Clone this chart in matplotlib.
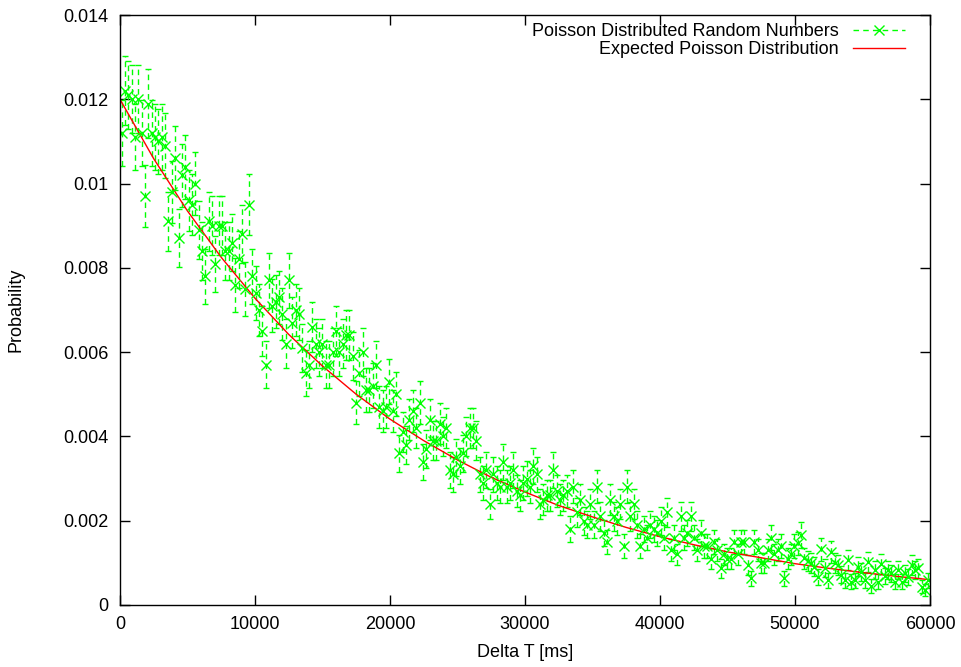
import numpy as np
import matplotlib
matplotlib.use("Agg")
import matplotlib.pyplot as plt
from matplotlib.lines import Line2D
from matplotlib.ticker import FuncFormatter, MultipleLocator

plt.rcParams['font.family'] = ['Liberation Sans', 'DejaVu Sans']

p_0_7k = [0.0112, 0.0122, 0.0121, 0.0120, 0.0111, 0.0120, 0.0112, 0.0097, 0.0119, 0.0112,
          0.0111, 0.0110, 0.0111, 0.0109, 0.0091, 0.0098, 0.0106, 0.0087, 0.0102, 0.0104,
          0.0096, 0.0095, 0.0100, 0.0089, 0.0084, 0.0078, 0.0091, 0.0090, 0.0081]
p_7k_10k = [0.0090, 0.0090, 0.0084, 0.0084, 0.0086, 0.0076, 0.0082, 0.0088, 0.0075, 0.0095]
p_10k_20k = [0.0078, 0.0074, 0.0070, 0.0065, 0.0057, 0.0077, 0.0071, 0.0072, 0.0073, 0.0069,
             0.0062, 0.0077, 0.0067, 0.0070, 0.0069, 0.0061, 0.0055, 0.0057, 0.0066, 0.0062,
             0.0060, 0.0062, 0.0057, 0.0057, 0.0060, 0.0065, 0.0060, 0.0062, 0.0064, 0.0064,
             0.0059, 0.0048, 0.0055, 0.0060, 0.0051, 0.0051, 0.0052, 0.0057, 0.0047, 0.0046,
             0.0047, 0.0053, 0.0046]
p_20k_30k = [0.0050, 0.0036, 0.0041, 0.0038, 0.0044, 0.0046, 0.0042, 0.0048, 0.0034, 0.0037,
             0.0044, 0.0039, 0.0039, 0.0043, 0.0040, 0.0042, 0.0032, 0.0031, 0.0035, 0.0033,
             0.0036, 0.0040, 0.0042, 0.0042, 0.0039, 0.0031, 0.0029, 0.0032, 0.0024, 0.0031,
             0.0029, 0.0028, 0.0034, 0.0028, 0.0029, 0.0032, 0.0027, 0.0026, 0.0029, 0.0030,
             0.0028]
p_30k_40k = [0.0033, 0.0031, 0.0024, 0.0025, 0.0026, 0.0026, 0.0032, 0.0027, 0.0025, 0.0026,
             0.0027, 0.0018, 0.0028, 0.0022, 0.0025, 0.0020, 0.0019, 0.0024, 0.0019, 0.0028,
             0.0021, 0.0017, 0.0015, 0.0025, 0.0021, 0.0020, 0.0024, 0.0014, 0.0028, 0.0021,
             0.0024, 0.0019, 0.0014, 0.0018, 0.0016, 0.0019, 0.0018, 0.0017, 0.0020]
p_40k_50k = [0.0016, 0.0022, 0.0013, 0.0016, 0.0012, 0.0021, 0.0016, 0.0017, 0.0021, 0.0016,
             0.0013, 0.0017, 0.0014, 0.0014, 0.0011, 0.0015, 0.0013, 0.00087, 0.0012, 0.0011,
             0.0011, 0.0015, 0.0012, 0.0015, 0.0015, 0.00095, 0.00063, 0.0015, 0.0013, 0.0010,
             0.0010, 0.0013, 0.0016, 0.0012, 0.0013, 0.0014, 0.00063, 0.0011, 0.0012, 0.0014]
p_50k_60k = [0.00146, 0.00166, 0.00111, 0.00105, 0.00099, 0.00091, 0.00067, 0.00132, 0.00088, 0.00059,
             0.00126, 0.00099, 0.00095, 0.00072, 0.00059, 0.00107, 0.00055, 0.00059, 0.00091, 0.00078,
             0.00059, 0.00103, 0.00045, 0.00083, 0.00055, 0.00097, 0.00068, 0.00083, 0.00075, 0.00055,
             0.00083, 0.00055, 0.00075, 0.00066, 0.00095, 0.00083, 0.00087, 0.00043, 0.00036, 0.00059]

# expected curve, read every 2500 ms
t_expected = list(range(0, 60001, 2500))
p_expected = [0.01200, 0.01059, 0.00935, 0.00825, 0.00728, 0.00642, 0.00567, 0.00500, 0.00441,
              0.00390, 0.00344, 0.00303, 0.00268, 0.00236, 0.00209, 0.00184, 0.00162, 0.00143,
              0.00126, 0.00112, 0.00098, 0.00087, 0.00077, 0.00068, 0.00060]

probs = np.array(p_0_7k + p_7k_10k + p_10k_20k + p_20k_30k + p_30k_40k + p_40k_50k + p_50k_60k)
step = 60000 / len(probs)
times = np.arange(len(probs)) * step + step / 2
errs = np.sqrt(probs) * 0.0074  # counting error, scale taken from bar lengths

GREEN = '#00ff00'
RED = '#ff0000'
FS = 13

fig = plt.figure(figsize=(9.62, 6.67), dpi=100)
ax = fig.add_axes([0.1247, 0.093, 0.842, 0.8845])

cont = ax.errorbar(times, probs, yerr=errs, fmt='x', color=GREEN, ecolor=GREEN,
                   markersize=6.5, markeredgewidth=1, elinewidth=1, capsize=2.5, capthick=1)
cont[2][0].set_linestyle((0, (4, 3)))
ax.plot(t_expected, p_expected, color=RED, linewidth=1)

ax.set_xlim(0, 60000)
ax.set_ylim(0, 0.014)
ax.xaxis.set_major_locator(MultipleLocator(10000))
ax.yaxis.set_major_locator(MultipleLocator(0.002))
ax.yaxis.set_major_formatter(FuncFormatter(lambda v, pos: '%g' % round(v, 6)))
ax.xaxis.set_major_formatter(FuncFormatter(lambda v, pos: '%d' % v))
ax.tick_params(direction='in', length=7, width=1, top=True, right=True, labelsize=FS, pad=8)
for s in ax.spines.values():
    s.set_linewidth(1)

ax.set_xlabel('Delta T [ms]', fontsize=FS, labelpad=8)
ax.set_ylabel('Probability', fontsize=FS, labelpad=28)

handles = [Line2D([], [], color=GREEN, linestyle=(0, (4, 3)), marker='x', markersize=6.5, linewidth=1),
           Line2D([], [], color=RED, linewidth=1)]
ax.legend(handles, ['Poisson Distributed Random Numbers', 'Expected Poisson Distribution'],
          loc='upper right', bbox_to_anchor=(0.976, 0.9956), frameon=False, markerfirst=False,
          fontsize=FS, handlelength=2.9, handletextpad=0.8, labelspacing=0.05,
          borderpad=0.3, borderaxespad=0)

fig.savefig('out.png', dpi=100)
